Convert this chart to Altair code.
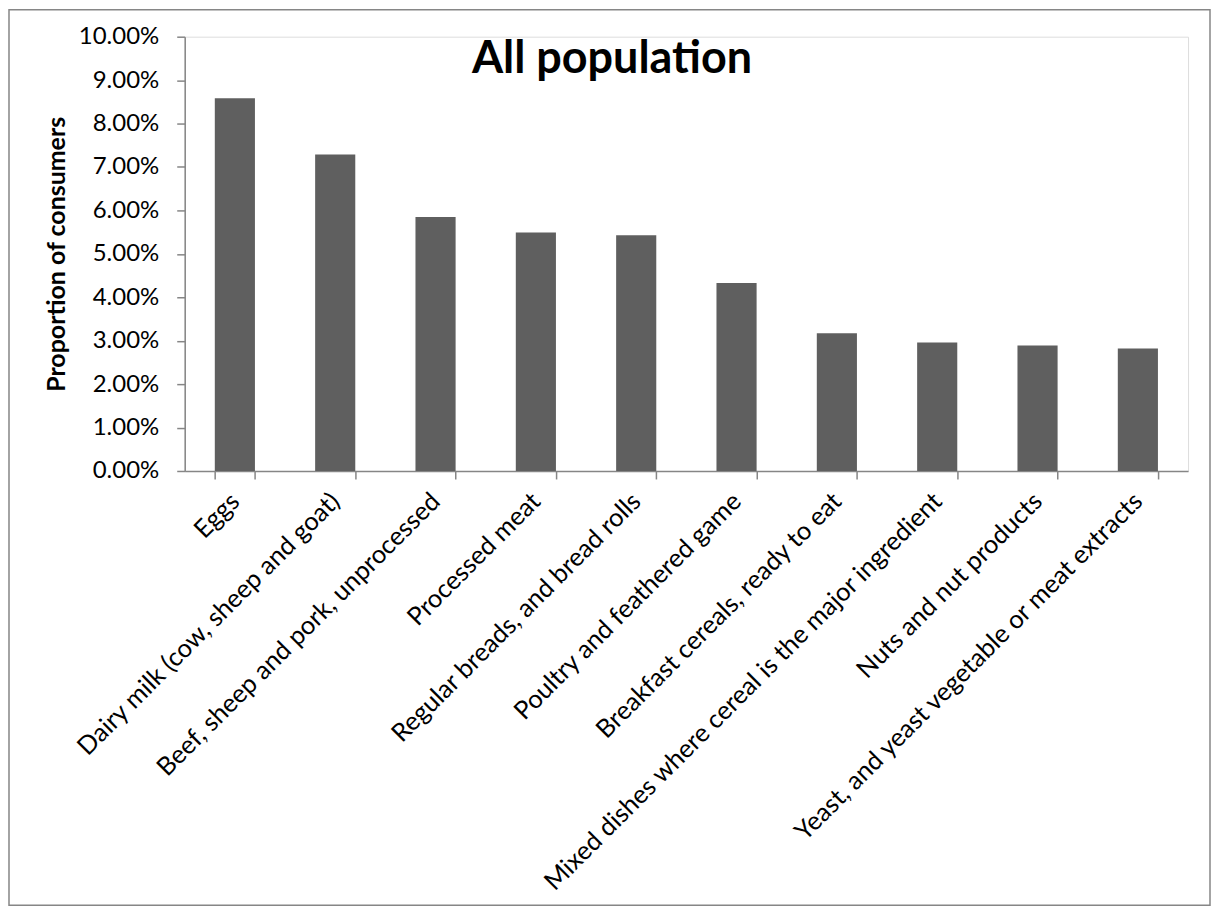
import altair as alt
import pandas as pd

categories = [
    "Eggs",
    "Dairy milk (cow, sheep and goat)",
    "Beef, sheep and pork, unprocessed",
    "Processed meat",
    "Regular breads, and bread rolls",
    "Poultry and feathered game",
    "Breakfast cereals, ready to eat",
    "Mixed dishes where cereal is the major ingredient",
    "Nuts and nut products",
    "Yeast, and yeast vegetable or meat extracts",
]
values = [0.0858, 0.0729, 0.0585, 0.0549, 0.0543, 0.0433, 0.0317, 0.0296, 0.0289, 0.0282]
y_ticks = [i / 100 for i in range(0, 11)]
title_text = "All population"

df = pd.DataFrame({"category": categories, "value": values})

FONT = "Lato"
GRAY = "#868686"

bars = alt.Chart(df).mark_bar(color="#5f5f5f").encode(
    x=alt.X(
        "category:N",
        sort=categories,
        scale=alt.Scale(paddingInner=0.6, paddingOuter=0.3),
        axis=alt.Axis(
            title=None,
            labelAngle=-45,
            labelAlign="right",
            labelBaseline="middle",
            labelFontSize=25.5,
            labelFont=FONT,
            labelColor="#000000",
            labelLimit=1000,
            labelPadding=18,
            tickBand="extent",
            tickSize=8,
            tickColor=GRAY,
            tickWidth=1.5,
            domainColor=GRAY,
            domainWidth=1.5,
            grid=False,
        ),
    ),
    y=alt.Y(
        "value:Q",
        scale=alt.Scale(domain=[0, 0.1], nice=False),
        axis=alt.Axis(
            title="Proportion of consumers",
            titleFont=FONT,
            titleFontSize=25,
            titleFontWeight="bold",
            titleColor="#000000",
            titlePadding=9,
            values=y_ticks,
            format=".2%",
            labelFontSize=24,
            labelFont=FONT,
            labelColor="#000000",
            labelPadding=18,
            tickSize=8,
            tickColor=GRAY,
            tickWidth=1.5,
            domainColor=GRAY,
            domainWidth=1.5,
            grid=False,
        ),
    ),
)

title = alt.Chart(pd.DataFrame({"t": [title_text]})).mark_text(
    font=FONT, fontSize=45, fontWeight="bold", color="#000000",
    align="center", baseline="alphabetic",
).encode(text="t:N", x=alt.value(428), y=alt.value(36))

border = alt.Chart(pd.DataFrame({"a": [0]})).mark_rect(
    fillOpacity=0, stroke=GRAY, strokeWidth=1.5
).encode(x=alt.value(-176), x2=alt.value(1027), y=alt.value(-27), y2=alt.value(870))

chart = alt.layer(border, bars, title).properties(
    width=1005, height=435, padding=0
).configure_view(stroke=None).configure(font=FONT, background="#ffffff")

chart.save("out.html", embed_options={"renderer": "svg", "actions": False})
